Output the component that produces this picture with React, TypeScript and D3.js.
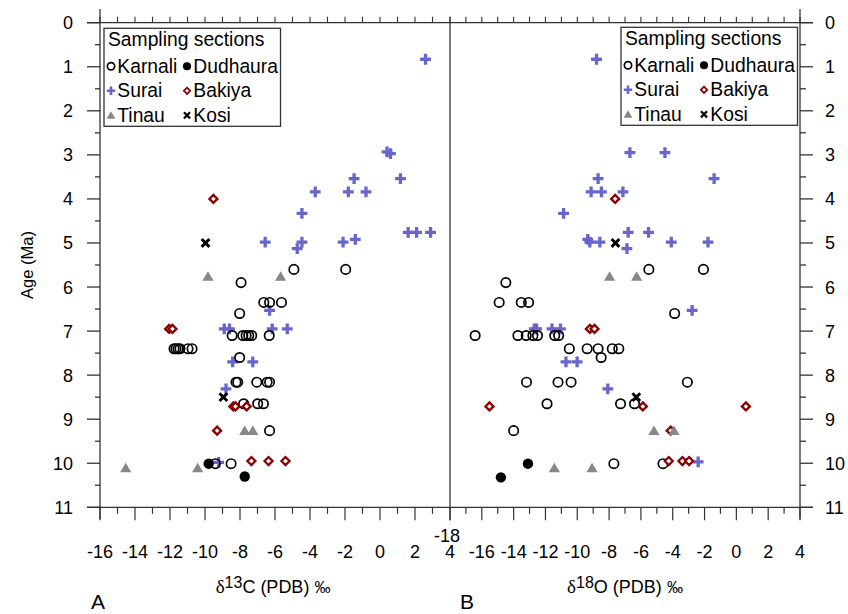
import React from "react";
import * as d3 from "d3";

type P = [number, number];

// ---------- DATA (value, age Ma) ----------
const karnaliC: P[] = [
  [-4.92, 5.6], [-1.96, 5.6], [-7.94, 5.9], [-6.64, 6.35], [-6.31, 6.35], [-5.63, 6.35], [-8.02, 6.6],
  [-8.45, 7.1], [-7.84, 7.1], [-7.65, 7.1], [-7.5, 7.1], [-7.33, 7.1], [-6.33, 7.1],
  [-11.77, 7.4], [-11.66, 7.4], [-11.54, 7.4], [-11.43, 7.4], [-10.97, 7.4], [-10.74, 7.4],
  [-8.02, 7.6],
  [-8.23, 8.16], [-8.13, 8.16], [-7.04, 8.16], [-6.45, 8.16], [-6.31, 8.16],
  [-7.79, 8.65], [-6.99, 8.65], [-6.66, 8.65],
  [-6.31, 9.26], [-9.41, 10.01], [-8.51, 10.01],
];
const dudhauraC: P[] = [[-9.79, 10.01], [-7.73, 10.3]];
const suraiC: P[] = [
  [2.6, 0.83], [0.4, 2.93], [0.6, 2.97], [-1.48, 3.54], [1.17, 3.54], [-3.7, 3.84], [-1.81, 3.84], [-0.8, 3.84],
  [-4.46, 4.33], [-6.56, 4.98], [-4.46, 4.98], [-4.73, 5.13], [-2.11, 4.98], [-1.41, 4.92],
  [1.61, 4.76], [2.09, 4.76], [2.89, 4.76], [-6.31, 6.53], [-8.9, 6.95], [-8.6, 6.95], [-6.16, 6.95], [-5.3, 6.95],
  [-8.42, 7.7], [-7.27, 7.7], [-8.8, 8.31], [-9.22, 9.98],
];
const bakiyaC: P[] = [
  [-9.52, 4.0], [-12.05, 6.95], [-11.86, 6.95], [-8.38, 8.71], [-8.26, 8.71], [-7.62, 8.71],
  [-9.31, 9.26], [-7.35, 9.95], [-6.37, 9.95], [-5.4, 9.95],
];
const tinauC: P[] = [[-9.83, 5.76], [-5.68, 5.76], [-7.73, 9.26], [-7.27, 9.26], [-14.53, 10.11], [-10.42, 10.11]];
const kosiC: P[] = [[-9.97, 5.0], [-8.95, 8.5]];

const karnaliO: P[] = [
  [-5.5, 5.6], [-2.07, 5.6], [-14.49, 5.9], [-14.91, 6.35], [-13.52, 6.35], [-13.06, 6.35], [-3.88, 6.6],
  [-16.42, 7.1], [-13.73, 7.1], [-13.21, 7.1], [-12.79, 7.1], [-12.5, 7.1], [-11.42, 7.1], [-11.17, 7.1],
  [-10.5, 7.4], [-9.38, 7.4], [-8.69, 7.4], [-7.8, 7.4], [-7.39, 7.4], [-8.5, 7.6],
  [-13.19, 8.16], [-11.21, 8.16], [-10.39, 8.16], [-3.08, 8.16],
  [-11.9, 8.65], [-7.28, 8.65], [-6.4, 8.65],
  [-14.0, 9.26], [-7.7, 10.01], [-4.61, 10.01],
];
const dudhauraO: P[] = [[-13.1, 10.01], [-14.8, 10.32]];
const suraiO: P[] = [
  [-8.79, 0.83], [-6.69, 2.95], [-4.49, 2.95], [-8.69, 3.54], [-1.4, 3.54], [-9.13, 3.84], [-8.48, 3.84], [-7.13, 3.84],
  [-10.86, 4.33], [-9.34, 4.92], [-9.21, 4.98], [-8.58, 4.98], [-6.8, 4.76], [-6.88, 5.13], [-5.52, 4.76],
  [-4.09, 4.98], [-1.78, 4.98], [-2.78, 6.53], [-12.7, 6.95], [-12.56, 6.95], [-11.59, 6.95], [-11.06, 6.95],
  [-10.71, 7.7], [-10.01, 7.7], [-8.08, 8.31], [-2.4, 9.97],
];
const bakiyaO: P[] = [
  [-7.62, 4.0], [-9.21, 6.95], [-8.92, 6.95], [-15.52, 8.71], [-5.88, 8.71], [0.6, 8.71],
  [-4.13, 9.26], [-4.25, 9.95], [-3.39, 9.95], [-2.97, 9.95],
];
const tinauO: P[] = [[-7.97, 5.76], [-6.27, 5.76], [-5.18, 9.26], [-3.92, 9.26], [-11.44, 10.11], [-9.07, 10.11]];
const kosiO: P[] = [[-7.6, 5.0], [-6.29, 8.5]];

const ageTicks = [0, 1, 2, 3, 4, 5, 6, 7, 8, 9, 10, 11];
const legendTitle = "Sampling sections";
const legendItems = [
  ["Karnali", "Dudhaura"],
  ["Surai", "Bakiya"],
  ["Tinau", "Kosi"],
];

// ---------- LAYOUT ----------
const W = 848, H = 614;
const X0 = 100, XM = 450, X1 = 800;
const Y0 = 22.7, Y1 = 507.3;
const FONT = "'Liberation Sans', Arial, Helvetica, sans-serif";
const AX = "#333";

const y = d3.scaleLinear().domain([0, 11]).range([Y0, Y1]);
const xC = d3.scaleLinear().domain([-16, 4]).range([X0, XM]);
const xO = d3.scaleLinear().domain([-18, 4]).range([XM, X1]);

const SURAI = "#6666cc";
const BAKIYA = "#8b0000";
const TINAU = "#878787";

function Marker({ kind, cx, cy, s = 1 }: { kind: string; cx: number; cy: number; s?: number }) {
  switch (kind) {
    case "Karnali":
      return <circle cx={cx} cy={cy} r={4.7 * s} fill="none" stroke="#000" strokeWidth={1.7} />;
    case "Dudhaura":
      return <circle cx={cx} cy={cy} r={5.2 * s} fill="#000" />;
    case "Surai": {
      const a = 5.4 * s;
      return (
        <path d={`M${cx - a},${cy}H${cx + a}M${cx},${cy - a}V${cy + a}`} stroke={SURAI} strokeWidth={3.3 * s} />
      );
    }
    case "Bakiya": {
      const a = 4.0 * s;
      return (
        <path
          d={`M${cx},${cy - a}L${cx + a},${cy}L${cx},${cy + a}L${cx - a},${cy}Z`}
          fill="#fff"
          stroke={BAKIYA}
          strokeWidth={2.3 * s}
        />
      );
    }
    case "Tinau": {
      const w = 5.6 * s, h = 9.5 * s;
      return (
        <path d={`M${cx},${cy - h * 0.55}L${cx + w},${cy + h * 0.45}L${cx - w},${cy + h * 0.45}Z`} fill={TINAU} />
      );
    }
    case "Kosi": {
      const a = 3.9 * s;
      return (
        <path
          d={`M${cx - a},${cy - a}L${cx + a},${cy + a}M${cx - a},${cy + a}L${cx + a},${cy - a}`}
          stroke="#000"
          strokeWidth={2.9 * s}
        />
      );
    }
  }
  return null;
}

function Series({ data, kind, x }: { data: P[]; kind: string; x: d3.ScaleLinear<number, number> }) {
  return (
    <g>
      {data.map((d, i) => (
        <Marker key={i} kind={kind} cx={x(d[0])} cy={y(d[1])} />
      ))}
    </g>
  );
}

function Legend({ x0, y0 }: { x0: number; y0: number }) {
  const bw = 176.5, bh = 98;
  return (
    <g>
      <rect x={x0} y={y0} width={bw} height={bh} fill="#fff" stroke={AX} strokeWidth={1.3} />
      <text x={x0 + 4} y={y0 + 18} fontSize={19.3} fontFamily={FONT}>{legendTitle}</text>
      {legendItems.map((row, r) =>
        row.map((name, c) => {
          const mx = x0 + 7 + c * 76;
          const by = y0 + 44.5 + r * 24.5;
          return (
            <g key={name}>
              <Marker kind={name} cx={mx} cy={by - 6.5} s={0.78} />
              <text x={mx + 6.3} y={by} fontSize={19.3} fontFamily={FONT}>{name}</text>
            </g>
          );
        })
      )}
    </g>
  );
}

function BottomAxis({ x, lo, hi, raiseFirst }: { x: d3.ScaleLinear<number, number>; lo: number; hi: number; raiseFirst?: boolean }) {
  const units = d3.range(lo, hi + 1, 1);
  const majors = d3.range(lo, hi + 1, 2);
  return (
    <g>
      {units.map((u) => (
        <line key={"t" + u} x1={x(u)} x2={x(u)} y1={Y0} y2={Y0 - 6} stroke={AX} strokeWidth={1.1} />
      ))}
      {units.map((u) => (
        <line key={"b" + u} x1={x(u)} x2={x(u)} y1={Y1} y2={Y1 + ((u - lo) % 2 === 0 ? 13 : 6.5)} stroke={AX} strokeWidth={1.2} />
      ))}
      {majors.map((u, i) => (
        <text
          key={"l" + u}
          x={x(u) + (raiseFirst && i === 0 ? -3 : 0)}
          y={raiseFirst && i === 0 ? 541.5 : 558}
          textAnchor="middle"
          fontSize={18}
          fontFamily={FONT}
        >
          {String(u)}
        </text>
      ))}
    </g>
  );
}

export default function App() {
  const halfTicks = d3.range(0.5, 11, 1);
  return (
    <svg width={W} height={H} style={{ position: "absolute", left: 0, top: 0, background: "#fff" }}>
      <rect width={W} height={H} fill="#fff" />
      {/* frame */}
      <line x1={87} x2={813} y1={Y0} y2={Y0} stroke={AX} strokeWidth={1.3} />
      <line x1={87} x2={813} y1={Y1} y2={Y1} stroke={AX} strokeWidth={1.3} />
      <line x1={X0} x2={X0} y1={9} y2={519} stroke={AX} strokeWidth={1.3} />
      <line x1={X1} x2={X1} y1={9} y2={519} stroke={AX} strokeWidth={1.3} />
      <line x1={XM} x2={XM} y1={Y0} y2={Y1} stroke={AX} strokeWidth={1.3} />

      {/* y ticks */}
      {ageTicks.map((t) => (
        <g key={"y" + t}>
          <line x1={87} x2={X0} y1={y(t)} y2={y(t)} stroke={AX} strokeWidth={1.3} />
          <line x1={X1} x2={813} y1={y(t)} y2={y(t)} stroke={AX} strokeWidth={1.3} />
          <text x={73} y={y(t) + 6.5} textAnchor="end" fontSize={18} fontFamily={FONT}>{String(t)}</text>
          <text x={825} y={y(t) + 6.5} textAnchor="start" fontSize={18} fontFamily={FONT}>{String(t)}</text>
        </g>
      ))}
      {halfTicks.map((t) => (
        <g key={"h" + t}>
          <line x1={95} x2={X0} y1={y(t)} y2={y(t)} stroke={AX} strokeWidth={1.3} />
          <line x1={X1} x2={806} y1={y(t)} y2={y(t)} stroke={AX} strokeWidth={1.3} />
        </g>
      ))}

      <BottomAxis x={xC} lo={-16} hi={4} />
      <BottomAxis x={xO} lo={-18} hi={4} raiseFirst />

      {/* axis titles */}
      <text transform={`translate(33,${(Y0 + Y1) / 2}) rotate(-90)`} textAnchor="middle" fontSize={16.5} fontFamily={FONT}>
        Age (Ma)
      </text>
      <text x={(X0 + XM) / 2 - 2} y={593} textAnchor="middle" fontSize={18} fontFamily={FONT}>
        <tspan fontFamily="'Liberation Serif', serif" fontSize={19}>δ</tspan>
        <tspan dy={-5} fontSize={16}>13</tspan>
        <tspan dy={5}>C (PDB) </tspan>
        <tspan fontSize={16}>‰</tspan>
      </text>
      <text x={(XM + X1) / 2} y={593} textAnchor="middle" fontSize={18} fontFamily={FONT}>
        <tspan fontFamily="'Liberation Serif', serif" fontSize={19}>δ</tspan>
        <tspan dy={-5} fontSize={16}>18</tspan>
        <tspan dy={5}>O (PDB) </tspan>
        <tspan fontSize={16}>‰</tspan>
      </text>
      <text x={91} y={609} fontSize={21} fontFamily={FONT}>A</text>
      <text x={460} y={609} fontSize={21} fontFamily={FONT}>B</text>

      {/* data: left */}
      <Series data={suraiC} kind="Surai" x={xC} />
      <Series data={karnaliC} kind="Karnali" x={xC} />
      <Series data={dudhauraC} kind="Dudhaura" x={xC} />
      <Series data={bakiyaC} kind="Bakiya" x={xC} />
      <Series data={tinauC} kind="Tinau" x={xC} />
      <Series data={kosiC} kind="Kosi" x={xC} />
      {/* data: right */}
      <Series data={suraiO} kind="Surai" x={xO} />
      <Series data={karnaliO} kind="Karnali" x={xO} />
      <Series data={dudhauraO} kind="Dudhaura" x={xO} />
      <Series data={bakiyaO} kind="Bakiya" x={xO} />
      <Series data={tinauO} kind="Tinau" x={xO} />
      <Series data={kosiO} kind="Kosi" x={xO} />

      <Legend x0={104} y0={28.3} />
      <Legend x0={621} y0={27.3} />
    </svg>
  );
}
